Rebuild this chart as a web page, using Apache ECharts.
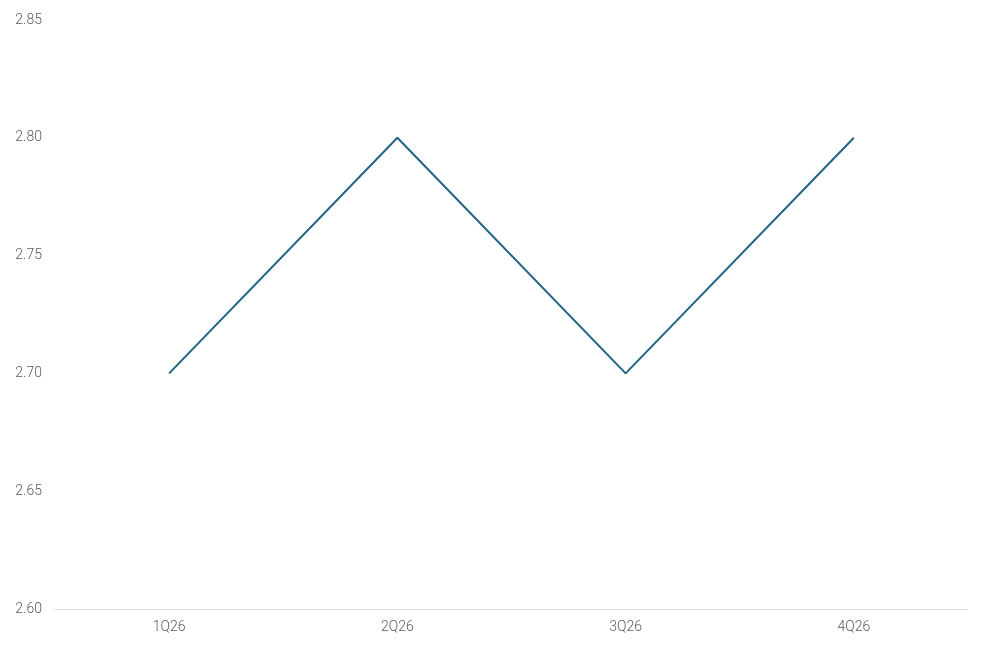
<!DOCTYPE html>
<html>
<head>
<meta charset="utf-8">
<script src="https://cdn.jsdelivr.net/npm/echarts@6/dist/echarts.min.js"></script>
<style>
  html, body { margin: 0; padding: 0; background: #fff; }
  #main { width: 984px; height: 656px; }
</style>
</head>
<body>
<div id="main"></div>
<script>
// data
var quarters = ['1Q26', '2Q26', '3Q26', '4Q26'];
var values = [2.70, 2.80, 2.70, 2.80];
var yMin = 2.60, yMax = 2.85, yStep = 0.05;

var labelFont = { color: '#5a5a5a', fontSize: 14, fontWeight: 300, fontFamily: 'Roboto, sans-serif' };

var chart = echarts.init(document.getElementById('main'));
chart.setOption({
  animation: false,
  backgroundColor: '#ffffff',
  grid: { left: 55, right: 16, top: 20, bottom: 47 },
  xAxis: {
    type: 'category',
    data: quarters,
    boundaryGap: true,
    axisLine: { lineStyle: { color: '#e2e2e2', width: 1 } },
    axisTick: { show: false },
    axisLabel: Object.assign({ margin: 11 }, labelFont)
  },
  yAxis: {
    type: 'value',
    min: yMin,
    max: yMax,
    interval: yStep,
    splitLine: { show: false },
    axisLine: { show: false },
    axisTick: { show: false },
    axisLabel: Object.assign({
      margin: 13,
      formatter: function (v) { return v.toFixed(2); }
    }, labelFont)
  },
  series: [{
    type: 'line',
    data: values,
    symbol: 'none',
    lineStyle: { color: '#1f6485', width: 2 }
  }]
});
</script>
</body>
</html>
